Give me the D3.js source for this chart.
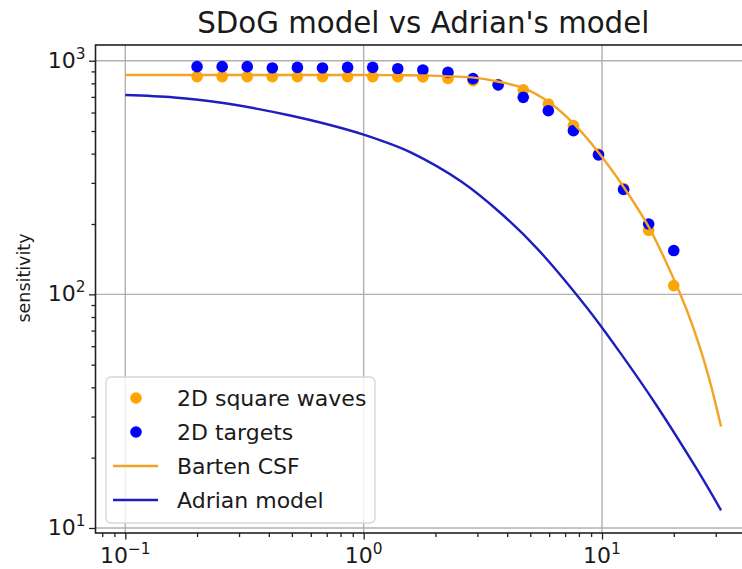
<!DOCTYPE html>
<html><head><meta charset="utf-8">
<script src="https://cdn.jsdelivr.net/npm/d3@7"></script>
<style>
body{margin:0;background:#fff}
svg{display:block}
text{font-family:"DejaVu Sans",sans-serif;fill:#1a1a1a}
</style>
</head><body>
<svg id="chart" width="742" height="569"></svg>
<script>
// ---- data ----
const freqs = [0.2, 0.2549, 0.3248, 0.4138, 0.5273, 0.6720, 0.8563, 1.0911, 1.3904, 1.7717,
               2.2577, 2.8769, 3.6660, 4.6714, 5.9528, 7.5855, 9.6658, 12.317, 15.695, 20];
const squareWaves = [855, 855, 855, 855, 855, 855, 855, 855, 855, 852,
                     840, 821, 790, 750, 653, 528, 399, 284, 188, 109];
const targets = [943, 943, 943, 931, 936, 931, 936, 936, 924, 913,
                 891, 838, 787, 697, 611, 502, 395, 281, 200, 154];
const bartenF = [0.1, 0.3, 1.0, 1.4, 1.902, 2.889, 3.679, 4.714, 6.001, 7.638, 9.723, 12.38, 15.76, 20.25, 22.75, 25.78, 28.67, 31.58];
const bartenS = [869, 869, 869, 867, 863, 846, 813, 762, 664, 535, 402, 286, 193, 113, 84.9, 59, 40.6, 27.2];
const adrianF = [0.1, 0.1603, 0.2578, 0.354, 0.492, 0.6965, 1.0, 1.185, 1.583, 2.566, 3.732, 5.345, 8.66, 11.91, 16.86, 25.04, 31.58];
const adrianS = [713, 696, 659, 624, 583, 536, 483, 455, 404, 304, 224, 157, 87.4, 56.3, 33.7, 17.8, 11.9];
const xTickExps = [-1, 0, 1];
const yTickExps = [1, 2, 3];
const titleText = "SDoG model vs Adrian's model";
const yLabelText = "sensitivity";
const legendLabels = ["2D square waves", "2D targets", "Barten CSF", "Adrian model"];

// ---- layout ----
const L = 95.5, R = 751, T = 45, B = 533;
const cOrange = "#FFA500", cBlue = "#0000FF", cLine = "#F2A424", cAdrian = "#1E1EC0";

const svg = d3.select("#chart");
const x = d3.scaleLog().domain([Math.pow(10, -1.125), Math.pow(10, 1.625)]).range([L, R]);
const y = d3.scaleLog().domain([Math.pow(10, 0.9786), Math.pow(10, 3.0672)]).range([B, T]);

const majorX = xTickExps.map(e => Math.pow(10, e));
const majorY = yTickExps.map(e => Math.pow(10, e));
const minorX = [];
[-2, -1, 0, 1].forEach(e => { for (let k = 2; k <= 9; k++) { const v = k * Math.pow(10, e); if (v >= x.domain()[0] && v <= x.domain()[1]) minorX.push(v); } });
const minorY = [];
[0, 1, 2, 3].forEach(e => { for (let k = 2; k <= 9; k++) { const v = k * Math.pow(10, e); if (v >= y.domain()[0] && v <= y.domain()[1]) minorY.push(v); } });

// grid
const grid = svg.append("g");
grid.selectAll("line.gx").data(majorX).join("line")
  .attr("x1", d => x(d)).attr("x2", d => x(d)).attr("y1", T).attr("y2", B)
  .attr("stroke", "#b0b0b0").attr("stroke-width", 1.4);
grid.selectAll("line.gy").data(majorY).join("line")
  .attr("x1", L).attr("x2", R).attr("y1", d => y(d)).attr("y2", d => y(d))
  .attr("stroke", "#b0b0b0").attr("stroke-width", 1.4);

// data
const plot = svg.append("g");
plot.selectAll("circle.sq").data(freqs).join("circle")
  .attr("cx", d => x(d)).attr("cy", (d, i) => y(squareWaves[i])).attr("r", 5.8).attr("fill", cOrange);
plot.selectAll("circle.tg").data(freqs).join("circle")
  .attr("cx", d => x(d)).attr("cy", (d, i) => y(targets[i])).attr("r", 5.8).attr("fill", cBlue);

const line = d3.line().x(d => x(d[0])).y(d => y(d[1])).curve(d3.curveCatmullRom.alpha(0.5));
plot.append("path").datum(bartenF.map((f, i) => [f, bartenS[i]]))
  .attr("d", line).attr("fill", "none").attr("stroke", cLine).attr("stroke-width", 2.4);
plot.append("path").datum(adrianF.map((f, i) => [f, adrianS[i]]))
  .attr("d", line).attr("fill", "none").attr("stroke", cAdrian).attr("stroke-width", 2.4);

// axes
const axStyle = g => { g.select(".domain").remove(); g.selectAll("line").attr("stroke", "#222").attr("stroke-width", 1.3); };
svg.append("g").attr("transform", `translate(0,${B})`)
  .call(d3.axisBottom(x).tickValues(majorX).tickSize(6.5).tickFormat(() => "")).call(axStyle);
svg.append("g").attr("transform", `translate(0,${B})`)
  .call(d3.axisBottom(x).tickValues(minorX).tickSize(4).tickFormat(() => "")).call(axStyle);
svg.append("g").attr("transform", `translate(${L},0)`)
  .call(d3.axisLeft(y).tickValues(majorY).tickSize(6.5).tickFormat(() => "")).call(axStyle);
svg.append("g").attr("transform", `translate(${L},0)`)
  .call(d3.axisLeft(y).tickValues(minorY).tickSize(4).tickFormat(() => "")).call(axStyle);

// spines
svg.append("rect").attr("x", L).attr("y", T).attr("width", R - L).attr("height", B - T)
  .attr("fill", "none").attr("stroke", "#222").attr("stroke-width", 1.6);

// tick labels
const fs = 22;
xTickExps.forEach(e => {
  const t = svg.append("text").attr("x", x(Math.pow(10, e))).attr("y", B + 30)
    .attr("text-anchor", "middle").attr("font-size", fs);
  t.append("tspan").text("10");
  t.append("tspan").attr("dy", -9).attr("font-size", fs * 0.7).text(e < 0 ? "\u2212" + (-e) : String(e));
});
yTickExps.forEach(e => {
  const t = svg.append("text").attr("x", L - 10).attr("y", y(Math.pow(10, e)) + 7)
    .attr("text-anchor", "end").attr("font-size", fs);
  t.append("tspan").text("10");
  t.append("tspan").attr("dy", -9).attr("font-size", fs * 0.7).text(String(e));
});

// title & label
svg.append("text").attr("x", (L + R) / 2).attr("y", 33).attr("text-anchor", "middle")
  .attr("font-size", 29.3).text(titleText);
svg.append("text").attr("transform", `translate(30,278) rotate(-90)`)
  .attr("text-anchor", "middle").attr("font-size", 17.5).text(yLabelText);

// legend
const lg = svg.append("g");
lg.append("rect").attr("x", 106).attr("y", 377).attr("width", 269).attr("height", 146).attr("rx", 5)
  .attr("fill", "#fff").attr("fill-opacity", 0.8).attr("stroke", "#d6d6d6").attr("stroke-width", 1.3);
const rowY = i => 398 + i * 34;
lg.append("circle").attr("cx", 136).attr("cy", rowY(0)).attr("r", 5.8).attr("fill", cOrange);
lg.append("circle").attr("cx", 136).attr("cy", rowY(1)).attr("r", 5.8).attr("fill", cBlue);
lg.append("line").attr("x1", 113).attr("x2", 158).attr("y1", rowY(2)).attr("y2", rowY(2)).attr("stroke", cLine).attr("stroke-width", 2.4);
lg.append("line").attr("x1", 113).attr("x2", 158).attr("y1", rowY(3)).attr("y2", rowY(3)).attr("stroke", cAdrian).attr("stroke-width", 2.4);
legendLabels.forEach((s, i) => {
  lg.append("text").attr("x", 177).attr("y", rowY(i)).attr("dy", "0.36em").attr("font-size", fs).text(s);
});
</script>
</body></html>
